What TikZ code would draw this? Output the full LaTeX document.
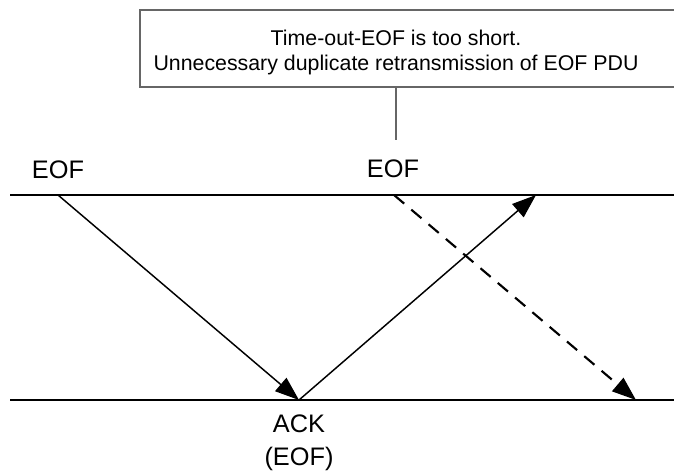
\documentclass[tikz,border=0pt]{standalone}
\usepackage{fontspec}
\setmainfont{Liberation Sans}
\usetikzlibrary{arrows.meta,positioning}

\begin{document}
\begin{tikzpicture}[x=0.75pt,y=-0.75pt]
  % Dimensions of the two time lines
  \def\lx{10}
  \def\lw{674}
  \def\ltop{195}
  \def\lbot{400}
  \tikzset{
    lbl/.style={font=\fontsize{19}{23}\selectfont, inner sep=0pt, anchor=base},
    txt/.style={font=\fontsize{16}{19}\selectfont, inner sep=0pt, anchor=base},
    msg/.style={-{Triangle[length=18pt, width=13pt]}, line width=1.1pt},
    tline/.style={line width=1.7pt}
  }
  \useasboundingbox (0,0) rectangle (674,475);

  % Sender and receiver lines
  \draw[tline] (\lx,\ltop) -- (\lw,\ltop);
  \draw[tline] (\lx,\lbot) -- (\lw,\lbot);

  % Points where the messages leave and arrive
  \coordinate (eofa) at (58,\ltop);
  \coordinate (eofb) at (394,\ltop);
  \coordinate (ackto) at (536,\ltop);
  \coordinate (ack) at (299,\lbot);
  \coordinate (dupe) at (636,\lbot);

  % Note box (open to the right)
  \draw[black!60, line width=0.8pt] (700,10) -- (140,10) -- (140,87) -- (700,87);
  \node[txt] (notea) at (396,45) {Time-out-EOF is too short.};
  \node[txt] (noteb) at (396,70) {Unnecessary duplicate retransmission of EOF PDU};
  \coordinate (notefoot) at (396,87);
  \coordinate (notetip) at (396,140);
  \draw[black!60, line width=0.8pt] (notefoot) -- (notetip);

  % Labels
  \node[lbl] (lbleofa) at (58,178) {EOF};
  \node[lbl] (lbleofb) at (393,177) {EOF};
  \node[lbl] (lblack) at (299,432) {ACK};
  \node[lbl] (lblackeof) at (299,465) {(EOF)};

  % Messages
  \draw[msg] (eofa) -- (ack);
  \draw[msg] (ack) -- (ackto);
  \draw[msg, line width=1.6pt, dash pattern=on 10pt off 7pt] (eofb) -- (dupe);
\end{tikzpicture}
\end{document}
